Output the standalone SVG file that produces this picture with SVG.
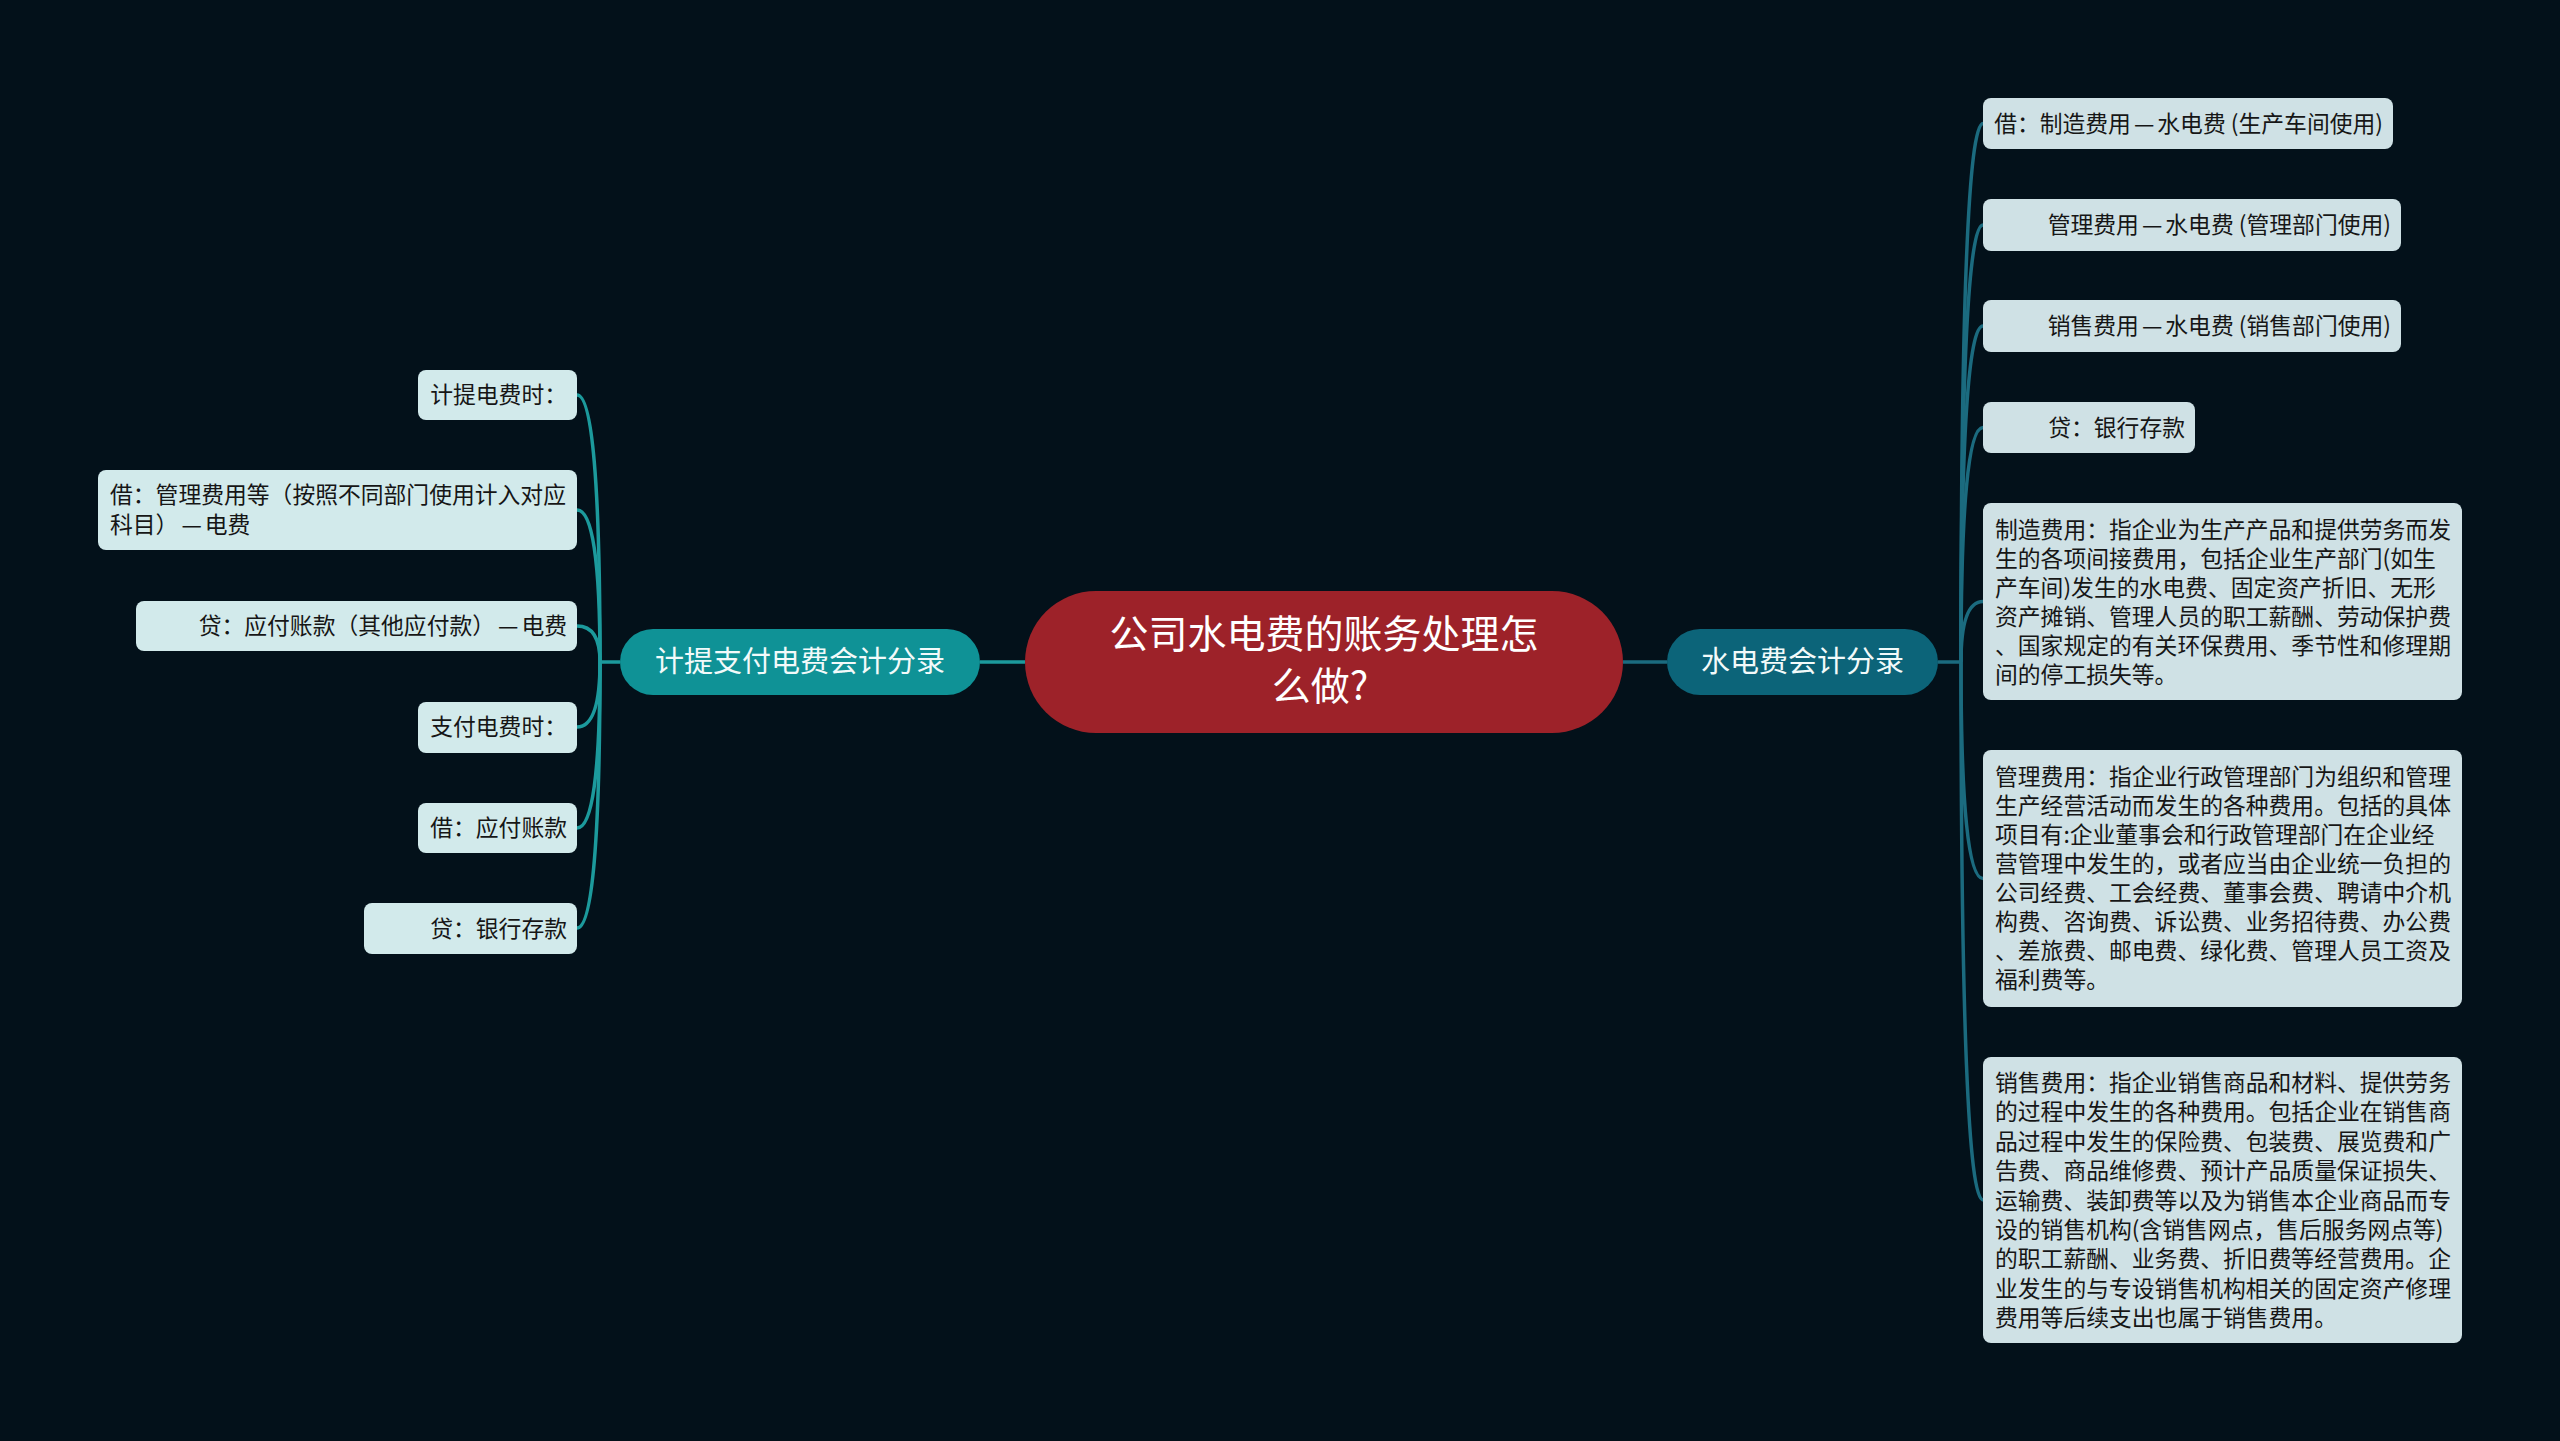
<svg xmlns="http://www.w3.org/2000/svg" width="2560" height="1441" viewBox="0 0 2560 1441">
<style>
text{font-family:"Noto Sans CJK SC","Noto Sans",sans-serif;}
.lb{fill:#d2eaeb;}
.rb{fill:#cfe1e5;}
.t{font-size:22.8px;fill:#161616;}
.lc{fill:none;stroke:#1c9a9c;stroke-width:3.5;}
.rc{fill:none;stroke:#1b6b7f;stroke-width:3.5;}
.mt{font-size:29px;fill:#f2fafa;text-anchor:middle;}
</style>
<rect x="0" y="0" width="2560" height="1441" fill="#03111a"/>
<g id="connectors">
<path class="lc" d="M1025 662 H980"/>
<path class="lc" d="M620 662 H600"/>
<path class="lc" d="M600 662 Q600 395 577 395"/>
<path class="lc" d="M600 662 Q600 510 577 510"/>
<path class="lc" d="M600 662 Q600 626 577 626"/>
<path class="lc" d="M600 662 Q600 727 577 727"/>
<path class="lc" d="M600 662 Q600 828 577 828"/>
<path class="lc" d="M600 662 Q600 928 577 928"/>
<path class="rc" d="M1623 662 H1667"/>
<path class="rc" d="M1938 662 H1961"/>
<path class="rc" d="M1961 662 Q1961 123.5 1983 123.5"/>
<path class="rc" d="M1961 662 Q1961 225 1983 225"/>
<path class="rc" d="M1961 662 Q1961 326 1983 326"/>
<path class="rc" d="M1961 662 Q1961 427.5 1983 427.5"/>
<path class="rc" d="M1961 662 Q1961 601.5 1983 601.5"/>
<path class="rc" d="M1961 662 Q1961 878.5 1983 878.5"/>
<path class="rc" d="M1961 662 Q1961 1200 1983 1200"/>
</g>
<g id="root">
<rect x="1025" y="591" width="598" height="142" rx="71" fill="#9d2229"/>
<text x="1324" y="648" font-size="39" fill="#ffffff" text-anchor="middle">公司水电费的账务处理怎</text>
<text x="1320" y="700" font-size="39" fill="#ffffff" text-anchor="middle">么做?</text>
</g>
<g id="left-main">
<rect x="620" y="629" width="360" height="66" rx="33" fill="#0f9296"/>
<text class="mt" x="800" y="672">计提支付电费会计分录</text>
</g>
<g id="right-main">
<rect x="1667" y="629" width="271" height="66" rx="33" fill="#0c6479"/>
<text class="mt" x="1802.5" y="672">水电费会计分录</text>
</g>
<g id="l1"><rect class="lb" x="418" y="370" width="159" height="50" rx="8"/><text class="t" x="567" y="403" text-anchor="end">计提电费时：</text></g>
<g id="l2"><rect class="lb" x="98" y="470" width="479" height="80" rx="8"/><text class="t" x="110" y="503">借：管理费用等（按照不同部门使用计入对应</text><text class="t" x="110" y="533">科目）<tspan dx="3">—</tspan><tspan dx="3">电费</tspan></text></g>
<g id="l3"><rect class="lb" x="136" y="601" width="441" height="50" rx="8"/><text class="t" x="567" y="634" text-anchor="end">贷：应付账款（其他应付款）<tspan dx="3">—</tspan><tspan dx="3">电费</tspan></text></g>
<g id="l4"><rect class="lb" x="418" y="702" width="159" height="51" rx="8"/><text class="t" x="567" y="735" text-anchor="end">支付电费时：</text></g>
<g id="l5"><rect class="lb" x="418" y="803" width="159" height="50" rx="8"/><text class="t" x="567" y="836" text-anchor="end">借：应付账款</text></g>
<g id="l6"><rect class="lb" x="364" y="903" width="213" height="51" rx="8"/><text class="t" x="567" y="937" text-anchor="end">贷：银行存款</text></g>
<g id="r1"><rect class="rb" x="1983" y="98" width="410" height="51" rx="8"/><text class="t" x="2383" y="132" text-anchor="end">借：制造费用<tspan dx="3">—</tspan><tspan dx="3">水电费 (生产车间使用)</tspan></text></g>
<g id="r2"><rect class="rb" x="1983" y="199" width="418" height="52" rx="8"/><text class="t" x="2391" y="233" text-anchor="end">管理费用<tspan dx="3">—</tspan><tspan dx="3">水电费 (管理部门使用)</tspan></text></g>
<g id="r3"><rect class="rb" x="1983" y="300" width="418" height="52" rx="8"/><text class="t" x="2391" y="334" text-anchor="end">销售费用<tspan dx="3">—</tspan><tspan dx="3">水电费 (销售部门使用)</tspan></text></g>
<g id="r4"><rect class="rb" x="1983" y="402" width="212" height="51" rx="8"/><text class="t" x="2185" y="436" text-anchor="end">贷：银行存款</text></g>
<g id="r5"><rect class="rb" x="1983" y="503" width="479" height="197" rx="8"/>
<text class="t" x="1995" y="538">制造费用：指企业为生产产品和提供劳务而发</text>
<text class="t" x="1995" y="567">生的各项间接费用，包括企业生产部门(如生</text>
<text class="t" x="1995" y="596">产车间)发生的水电费、固定资产折旧、无形</text>
<text class="t" x="1995" y="625">资产摊销、管理人员的职工薪酬、劳动保护费</text>
<text class="t" x="1995" y="654">、国家规定的有关环保费用、季节性和修理期</text>
<text class="t" x="1995" y="683">间的停工损失等。</text>
</g>
<g id="r6"><rect class="rb" x="1983" y="750" width="479" height="257" rx="8"/>
<text class="t" x="1995" y="785">管理费用：指企业行政管理部门为组织和管理</text>
<text class="t" x="1995" y="814">生产经营活动而发生的各种费用。包括的具体</text>
<text class="t" x="1995" y="843">项目有:企业董事会和行政管理部门在企业经</text>
<text class="t" x="1995" y="872">营管理中发生的，或者应当由企业统一负担的</text>
<text class="t" x="1995" y="901">公司经费、工会经费、董事会费、聘请中介机</text>
<text class="t" x="1995" y="930">构费、咨询费、诉讼费、业务招待费、办公费</text>
<text class="t" x="1995" y="959">、差旅费、邮电费、绿化费、管理人员工资及</text>
<text class="t" x="1995" y="988">福利费等。</text>
</g>
<g id="r7"><rect class="rb" x="1983" y="1057" width="479" height="286" rx="8"/>
<text class="t" x="1995" y="1091">销售费用：指企业销售商品和材料、提供劳务</text>
<text class="t" x="1995" y="1120.4">的过程中发生的各种费用。包括企业在销售商</text>
<text class="t" x="1995" y="1149.8">品过程中发生的保险费、包装费、展览费和广</text>
<text class="t" x="1995" y="1179.2">告费、商品维修费、预计产品质量保证损失、</text>
<text class="t" x="1995" y="1208.6">运输费、装卸费等以及为销售本企业商品而专</text>
<text class="t" x="1995" y="1238">设的销售机构(含销售网点，售后服务网点等)</text>
<text class="t" x="1995" y="1267.4">的职工薪酬、业务费、折旧费等经营费用。企</text>
<text class="t" x="1995" y="1296.8">业发生的与专设销售机构相关的固定资产修理</text>
<text class="t" x="1995" y="1326.2">费用等后续支出也属于销售费用。</text>
</g>
</svg>
